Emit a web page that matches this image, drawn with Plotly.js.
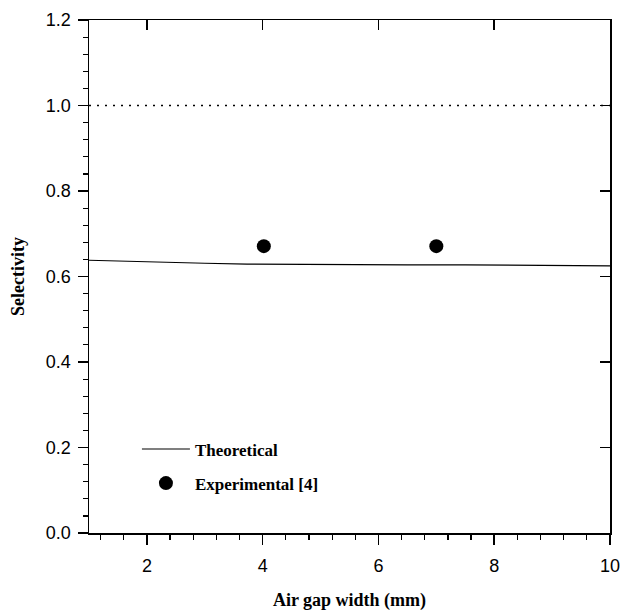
<!DOCTYPE html>
<html>
<head>
<meta charset="utf-8">
<script src="https://cdn.plot.ly/plotly-3.0.1.min.js"></script>
<style>html,body{margin:0;padding:0;background:#fff;}#plot{width:621px;height:612px;}</style>
</head>
<body>
<div id="plot"></div>
<script>
// Theoretical curve
var theoX = [1, 2, 3, 3.73, 4.5, 5.63, 6.5, 7.5, 8.5, 9.3, 10];
var theoY = [0.638, 0.634, 0.631, 0.629, 0.628, 0.628, 0.627, 0.627, 0.626, 0.625, 0.625];
// Experimental points [4]
var expX = [4.02, 7.0];
var expY = [0.671, 0.671];
// Reference line at selectivity 1
var refX = [1, 10];
var refY = [1.0, 1.0];
var xTicks = [2, 4, 6, 8, 10];
var yTicks = [0, 0.2, 0.4, 0.6, 0.8, 1.0, 1.2];

var serif = 'Liberation Serif, Times New Roman, serif';
var sans = 'Liberation Sans, Arial, sans-serif';

var traces = [
  {x: refX, y: refY, mode: 'lines', line: {color: '#000', width: 1.5, dash: '2px,6px'}, showlegend: false, hoverinfo: 'skip'},
  {x: theoX, y: theoY, mode: 'lines', name: 'Theoretical', legendgroup: 'a', line: {color: '#000', width: 1.2}},
  {x: expX, y: expY, mode: 'markers', name: 'Experimental [4]', legendgroup: 'b', marker: {color: '#000', size: 14, symbol: 'circle'}},
  // invisible helper so the top and right frame axes are drawn
  {x: refX, y: refY, xaxis: 'x2', yaxis: 'y2', mode: 'lines', opacity: 0, line: {width: 0}, showlegend: false, hoverinfo: 'skip'}
];

var layout = {
  width: 621, height: 612,
  paper_bgcolor: '#fff', plot_bgcolor: '#fff',
  margin: {l: 89, r: 11, t: 20, b: 79},
  showlegend: true,
  legend: {x: 0.092, y: 0.198, xanchor: 'left', yanchor: 'top', bgcolor: 'rgba(0,0,0,0)',
           traceorder: 'grouped', tracegroupgap: 9,
           font: {family: serif, size: 17, color: '#000', weight: 'bold'}, itemwidth: 48},
  xaxis: {
    range: [1, 10], tickvals: xTicks, ticks: 'outside', ticklen: 10, tickwidth: 1.5, tickcolor: '#000',
    showline: true, linecolor: '#000', linewidth: 1.5, showgrid: false, zeroline: false,
    tickfont: {family: sans, size: 18, color: '#000'}, ticklabelstandoff: 6,
    minor: {dtick: 0.4, tick0: 2, ticks: 'outside', ticklen: 5, tickwidth: 1.2, tickcolor: '#000', showgrid: false},
    title: {text: 'Air gap width (mm)', font: {family: serif, size: 18, color: '#000', weight: 'bold'}, standoff: 18}
  },
  yaxis: {
    range: [0, 1.2], tickvals: yTicks, tickformat: '.1f', ticks: 'outside', ticklen: 10, tickwidth: 1.5, tickcolor: '#000',
    showline: true, linecolor: '#000', linewidth: 1.5, showgrid: false, zeroline: false,
    tickfont: {family: sans, size: 18, color: '#000'}, ticklabelstandoff: 3,
    minor: {dtick: 0.04, tick0: 0, ticks: 'outside', ticklen: 5, tickwidth: 1.2, tickcolor: '#000', showgrid: false},
    title: {text: 'Selectivity', font: {family: serif, size: 18, color: '#000', weight: 'bold'}, standoff: 16}
  },
  xaxis2: {
    overlaying: 'x', side: 'top', range: [1, 10], tickvals: xTicks, ticks: 'inside', ticklen: 10, tickwidth: 1.5, tickcolor: '#000',
    showline: true, linecolor: '#000', linewidth: 1.5, showgrid: false, zeroline: false, showticklabels: false
  },
  yaxis2: {
    overlaying: 'y', side: 'right', range: [0, 1.2], tickvals: yTicks, ticks: 'inside', ticklen: 10, tickwidth: 1.5, tickcolor: '#000',
    showline: true, linecolor: '#000', linewidth: 1.5, showgrid: false, zeroline: false, showticklabels: false
  }
};

Plotly.newPlot('plot', traces, layout, {staticPlot: true, displayModeBar: false});
</script>
</body>
</html>
